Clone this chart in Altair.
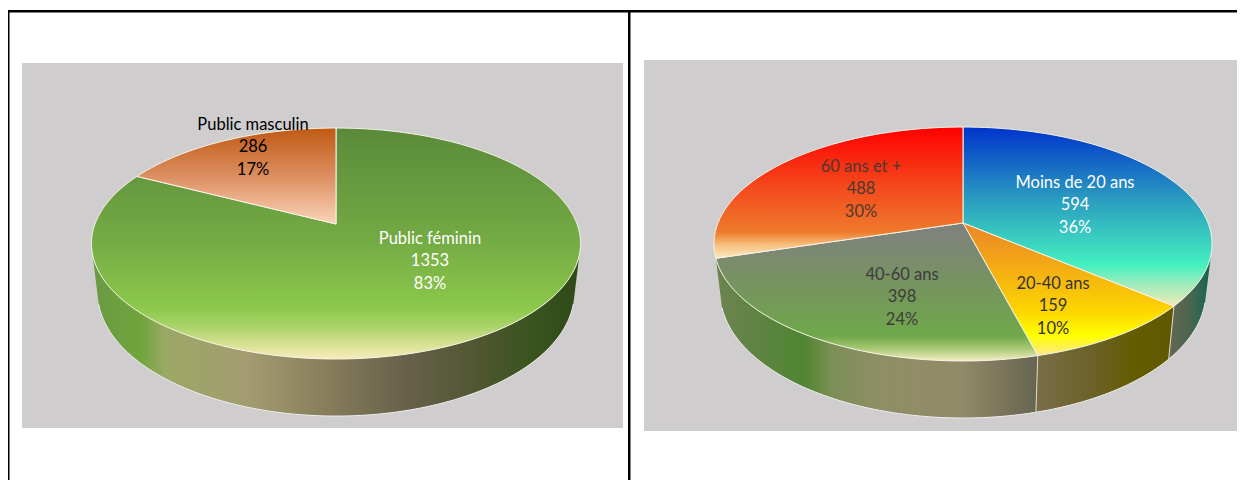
import math
import altair as alt
import pandas as pd

# ---- chart values ----
left_labels = ["Public féminin", "Public masculin"]
left_values = [1353, 286]
left_percent = ["83%", "17%"]

right_labels = ["Moins de 20 ans", "20-40 ans", "40-60 ans", "60 ans et +"]
right_values = [594, 159, 398, 488]
right_percent = ["36%", "10%", "24%", "30%"]

FONT = "Lato"
FONT_SIZE = 16.5


def grad_v(stops):
    return alt.LinearGradient(gradient="linear", x1=0, x2=0, y1=0, y2=1,
                              stops=[alt.GradientStop(offset=o, color=c) for o, c in stops])


def grad_h(stops):
    return alt.LinearGradient(gradient="linear", x1=0, x2=1, y1=0, y2=0,
                              stops=[alt.GradientStop(offset=o, color=c) for o, c in stops])


X = alt.X("x:Q", scale=alt.Scale(domain=[8, 1237], nice=False, zero=False), axis=None)
Y = alt.Y("y:Q", scale=alt.Scale(domain=[8, 480], reverse=True, nice=False, zero=False), axis=None)


class Pie:
    def __init__(self, cx, ay, a, b, c, d):
        self.cx, self.ay, self.a, self.b, self.c, self.d = cx, ay, a, b, c, d

    def top(self, deg):
        t = math.radians(deg)
        px, py = math.sin(t), -math.cos(t)
        w = 1 - self.c * py
        return self.cx + self.a * px / w, self.ay + self.b * py / w

    def bottom(self, deg):
        t = math.radians(deg)
        py = -math.cos(t)
        w = 1 - self.c * py
        x, y = self.top(deg)
        return self.cx + (x - self.cx) * 0.975, y + self.d / w

    def arc(self, fn, a0, a1):
        n = max(2, int(abs(a1 - a0)) + 1)
        return [fn(a0 + (a1 - a0) * k / n) for k in range(n + 1)]


def poly_layer(points, fill=None, stroke=None, width=1.0):
    df = pd.DataFrame({"x": [p[0] for p in points], "y": [p[1] for p in points],
                       "i": list(range(len(points)))})
    kw = {"strokeWidth": width, "interpolate": "linear", "strokeJoin": "round"}
    kw["stroke"] = stroke if stroke else "transparent"
    if fill is not None:
        kw["fill"] = fill
    return alt.Chart(df).mark_line(**kw).encode(x=X, y=Y, order=alt.Order("i:Q"))


def wedge(p, a0, a1, fill):
    pts = [(p.cx, p.ay)] + p.arc(p.top, a0, a1) + [(p.cx, p.ay)]
    return poly_layer(pts, fill=fill, stroke="#f6f4e6", width=1.0)


def wall(p, a0, a1, fill):
    pts = p.arc(p.top, a0, a1) + p.arc(p.bottom, a1, a0)
    pts.append(pts[0])
    return poly_layer(pts, fill=fill)


def spans(values, start=0.0):
    total = sum(values)
    out, cur = [], start
    for v in values:
        out.append((cur, cur + 360 * v / total))
        cur += 360 * v / total
    return out


layers = []

# page furniture
panel_df = pd.DataFrame({"x": [22, 644], "x2": [623, 1237], "y": [63, 60], "y2": [428, 431]})
layers.append(alt.Chart(panel_df).mark_rect(color="#cfcdce").encode(x=X, x2="x2:Q", y=Y, y2="y2:Q"))
frame_df = pd.DataFrame({"x": [8, 8, 628], "x2": [1237, 9.5, 630.5], "y": [10, 10, 10], "y2": [12.5, 480, 480]})
layers.append(alt.Chart(frame_df).mark_rect(color="#000000").encode(x=X, x2="x2:Q", y=Y, y2="y2:Q"))

# left pie
pL = Pie(336, 224, 241, 112.2, 0.169, 47.4)
sL = spans(left_values)
wall_L = grad_h([(0, "#6a9a42"), (0.10, "#70a53c"), (0.15, "#9ca866"), (0.32, "#a39c70"),
                 (0.52, "#7f7658"), (0.65, "#66604a"), (0.80, "#4f5530"), (0.89, "#3b5520"), (1, "#2f4a18")])
layers.append(wall(pL, 105, 255, wall_L))
layers.append(poly_layer(pL.arc(pL.bottom, 105, 255), stroke="#eeeeee", width=1))
layers.append(wedge(pL, sL[0][0], sL[0][1], grad_v([(0, "#5a8a3a"), (0.48, "#74aa44"), (0.78, "#8cc84b"),
                                                    (0.86, "#aad46a"), (0.94, "#d8e294"), (1, "#f8ecbc")])))
layers.append(wedge(pL, sL[1][0], sL[1][1], grad_v([(0, "#c05a14"), (0.5, "#dc8e60"), (1, "#fbd4b8")])))

# right pie
pR = Pie(963, 223, 245, 113.2, 0.1795, 46.8)
sR = spans(right_values)
wall_40 = grad_h([(0, "#6d8350"), (0.27, "#4f8532"), (0.36, "#7d8f55"), (0.51, "#8e8f66"),
                  (0.76, "#928a68"), (1, "#666450")])
wall_20 = grad_h([(0, "#7a6d48"), (0.45, "#6b6024"), (0.7, "#635c00"), (1, "#5f5800")])
wall_m = grad_h([(0, "#66664f"), (0.5, "#4a6650"), (1, "#0f6650")])
layers.append(wall(pR, 105, sR[0][1], wall_m))
layers.append(wall(pR, sR[1][0], sR[1][1], wall_20))
layers.append(wall(pR, sR[2][0], sR[2][1], wall_40))
layers.append(poly_layer(pR.arc(pR.bottom, 105, sR[2][1]), stroke="#eeeeee", width=1))
for ang in (sR[1][0], sR[2][0]):
    layers.append(poly_layer([pR.top(ang), pR.bottom(ang)], stroke="#dedcd0", width=1))

right_fills = [
    grad_v([(0, "#0033cc"), (0.4, "#2a9bc0"), (0.77, "#45f0c0"), (0.88, "#a0ecbc"), (1, "#f0eab8")]),
    grad_v([(0, "#ea8428"), (0.66, "#fdd400"), (0.85, "#ffff00"), (1, "#fbe88c")]),
    grad_v([(0, "#808080"), (0.5, "#75965c"), (0.82, "#6fa84a"), (0.91, "#a8c874"), (1, "#f6eec4")]),
    grad_v([(0, "#ff0000"), (0.45, "#f4481c"), (0.8, "#ee7a2c"), (0.9, "#f8c080"), (1, "#fdeac0")]),
]
for (a0, a1), f in zip(sR, right_fills):
    layers.append(wedge(pR, a0, a1, f))

# labels
label_x = [430, 253, 1075, 1053, 902, 861]
label_y = [238.5, 124.5, 182.5, 283.5, 274.5, 166.5]
label_color = ["#ffffff", "#000000", "#ffffff", "#333333", "#3c3c3c", "#4a3a30"]
names = left_labels + right_labels
vals = left_values + right_values
pcts = left_percent + right_percent
rows = []
for n, v, pc, lx, ly, col in zip(names, vals, pcts, label_x, label_y, label_color):
    for k, t in enumerate([n, str(v), pc]):
        rows.append({"x": lx, "y": ly + k * 22.5, "t": t, "c": col})
text_df = pd.DataFrame(rows)
layers.append(
    alt.Chart(text_df).mark_text(font=FONT, fontSize=FONT_SIZE, align="center", baseline="middle").encode(
        x=X, y=Y, text="t:N", color=alt.Color("c:N", scale=None, legend=None)
    )
)

chart = alt.layer(*layers).properties(
    width=1229, height=472, padding=0,
    autosize=alt.AutoSizeParams(type="none"),
    background="#ffffff",
).configure_view(stroke=None)

chart.save("out.html", embed_options={"renderer": "svg", "actions": False})
